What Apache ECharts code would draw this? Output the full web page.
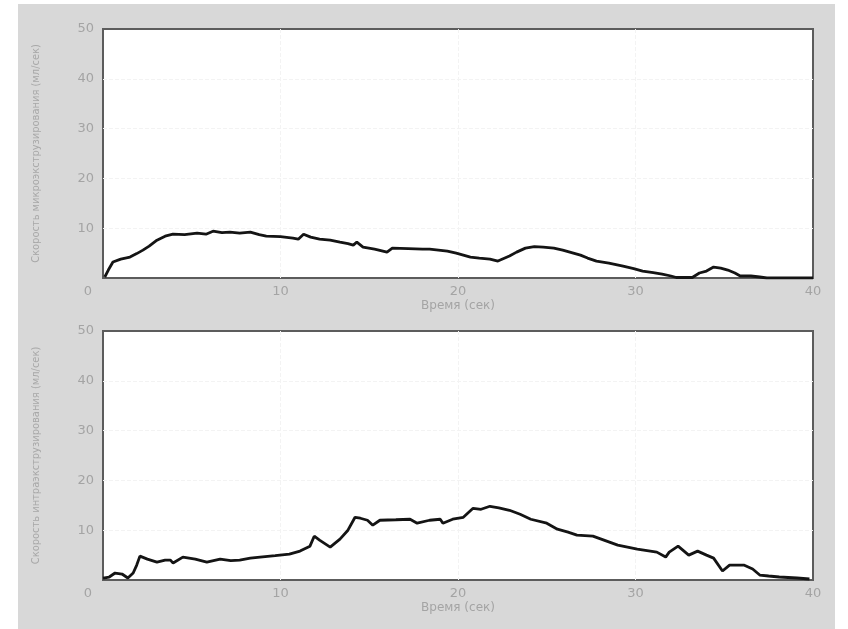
<!DOCTYPE html>
<html>
<head>
<meta charset="utf-8">
<script src="https://cdn.jsdelivr.net/npm/echarts@6/dist/echarts.min.js"></script>
<style>
  html, body { margin: 0; padding: 0; background: #ffffff; }
  #panel { position: absolute; left: 18px; top: 4px; width: 817px; height: 625px; background: #d8d8d8; }
  #chart { position: absolute; left: 0; top: 0; width: 848px; height: 629px; }
</style>
</head>
<body>
<div id="panel"></div>
<div id="chart"></div>
<script>
// Time axis ticks (seconds) and flow-rate ticks (ml/s)
const xTicks = [0, 10, 20, 30, 40];
const yTicks = [0, 10, 20, 30, 40, 50];

// Upper trace: [time, rate]
const upperTime = [0.1, 0.3, 0.56, 1.0, 1.52, 1.9, 2.25, 2.6, 3.04, 3.5, 3.94, 4.6, 5.3, 5.8, 6.2, 6.7, 7.15, 7.7, 8.3, 8.8, 9.2, 10.0, 10.7, 11.0, 11.3, 11.7, 12.2, 12.8, 13.35, 13.8, 14.1, 14.3, 14.65, 15.3, 16.0, 16.3, 17.2, 18.0, 18.4, 19.4, 19.9, 20.7, 21.2, 21.8, 22.25, 22.9, 23.3, 23.8, 24.3, 24.8, 25.4, 25.9, 26.4, 26.9, 27.3, 27.8, 28.5, 29.3, 29.9, 30.4, 31.0, 31.5, 32.0, 32.3, 32.8, 33.2, 33.6, 34.0, 34.4, 34.8, 35.2, 35.6, 35.9, 36.5, 37.0, 37.4, 38.5, 40.0];
const upperRate = [0.2, 1.6, 3.2, 3.8, 4.2, 4.9, 5.6, 6.4, 7.6, 8.4, 8.8, 8.7, 9.0, 8.8, 9.4, 9.1, 9.2, 9.0, 9.2, 8.7, 8.4, 8.3, 8.0, 7.8, 8.8, 8.2, 7.8, 7.6, 7.2, 6.9, 6.6, 7.2, 6.2, 5.8, 5.2, 6.0, 5.9, 5.8, 5.8, 5.4, 5.0, 4.2, 4.0, 3.8, 3.4, 4.4, 5.2, 6.0, 6.3, 6.2, 6.0, 5.6, 5.1, 4.6, 4.0, 3.4, 3.0, 2.4, 1.9, 1.4, 1.1, 0.8, 0.4, 0.1, 0.1, 0.1, 1.0, 1.4, 2.2, 2.0, 1.6, 1.0, 0.4, 0.4, 0.2, 0.0, 0.0, 0.0];

// Lower trace: [time, rate]
const lowerTime = [0.0, 0.35, 0.68, 1.07, 1.4, 1.7, 1.9, 2.08, 2.5, 3.04, 3.5, 3.8, 3.95, 4.5, 5.2, 5.85, 6.6, 7.2, 7.7, 8.3, 8.85, 9.7, 10.5, 11.1, 11.66, 11.9, 12.2, 12.8, 13.35, 13.8, 14.2, 14.5, 14.9, 15.2, 15.6, 16.5, 17.3, 17.7, 18.4, 19.0, 19.15, 19.7, 20.3, 20.85, 21.3, 21.8, 22.3, 22.9, 23.5, 24.1, 25.0, 25.6, 26.2, 26.7, 27.6, 28.3, 29.0, 30.1, 31.2, 31.7, 31.9, 32.4, 33.0, 33.5, 34.0, 34.4, 34.9, 35.3, 36.1, 36.6, 37.0, 37.5, 38.1, 39.1, 39.8];
const lowerRate = [0.4, 0.6, 1.4, 1.2, 0.4, 1.4, 3.0, 4.8, 4.2, 3.6, 4.0, 4.0, 3.4, 4.6, 4.2, 3.6, 4.2, 3.9, 4.0, 4.4, 4.6, 4.9, 5.2, 5.8, 6.8, 8.8, 8.0, 6.6, 8.2, 10.0, 12.6, 12.4, 12.0, 11.0, 12.0, 12.1, 12.2, 11.4, 12.0, 12.2, 11.4, 12.2, 12.6, 14.4, 14.2, 14.8, 14.5, 14.0, 13.2, 12.2, 11.4, 10.2, 9.6, 9.0, 8.8, 7.9, 7.0, 6.2, 5.6, 4.6, 5.6, 6.8, 5.0, 5.8, 5.0, 4.4, 1.8, 3.0, 3.0, 2.2, 1.0, 0.8, 0.6, 0.4, 0.2];

const xName = 'Время (сек)';
const upperYName = 'Скорость микроэкструзирования (мл/сек)';
const lowerYName = 'Скорость интраэкструзирования (мл/сек)';

const zip = (xs, ys) => xs.map((x, i) => [x, ys[i]]);

const tickColor = '#a4a4a4';
const tickFont = { color: tickColor, fontSize: 13, fontFamily: 'DejaVu Sans', fontWeight: 'normal' };
const faintGrid = { show: true, showMinLine: false, showMaxLine: false, lineStyle: { color: '#f3f3f3', width: 1, type: 'dashed' } };

function xAxis(gridIndex) {
  return {
    type: 'value', gridIndex, min: xTicks[0], max: xTicks[xTicks.length - 1], interval: 10,
    name: xName, nameLocation: 'middle', nameGap: 22,
    nameTextStyle: { color: tickColor, fontSize: 12, fontFamily: 'DejaVu Sans' },
    axisLine: { show: false }, axisTick: { show: false },
    axisLabel: {
      margin: 7, ...tickFont,
      formatter: v => v === 0 ? '{z|0}' : String(v),
      rich: { z: { ...tickFont, padding: [0, 30, 0, 0] } }
    },
    splitLine: faintGrid
  };
}

function yAxis(gridIndex, name) {
  return {
    type: 'value', gridIndex, min: yTicks[0], max: yTicks[yTicks.length - 1], interval: 10,
    name, nameLocation: 'middle', nameGap: 61, nameRotate: 90,
    nameTextStyle: { color: '#a8a8a8', fontSize: 11, fontFamily: 'DejaVu Sans Condensed' },
    axisLine: { show: false }, axisTick: { show: false },
    axisLabel: { margin: 9, ...tickFont, formatter: v => v === 0 ? '' : String(v) },
    splitLine: faintGrid
  };
}

const lineStyle = { color: '#141414', width: 2.8 };

const chart = echarts.init(document.getElementById('chart'), null, { renderer: 'canvas' });
chart.setOption({
  backgroundColor: 'transparent',
  animation: false,
  grid: [
    { left: 103, top: 29, width: 710, height: 249, show: true, backgroundColor: '#ffffff', borderColor: '#5c5c5c', borderWidth: 2 },
    { left: 103, top: 331, width: 710, height: 249, show: true, backgroundColor: '#ffffff', borderColor: '#5c5c5c', borderWidth: 2 }
  ],
  xAxis: [xAxis(0), xAxis(1)],
  yAxis: [yAxis(0, upperYName), yAxis(1, lowerYName)],
  series: [
    { type: 'line', xAxisIndex: 0, yAxisIndex: 0, data: zip(upperTime, upperRate), showSymbol: false, lineStyle, smooth: false },
    { type: 'line', xAxisIndex: 1, yAxisIndex: 1, data: zip(lowerTime, lowerRate), showSymbol: false, lineStyle, smooth: false }
  ]
});
</script>
</body>
</html>
